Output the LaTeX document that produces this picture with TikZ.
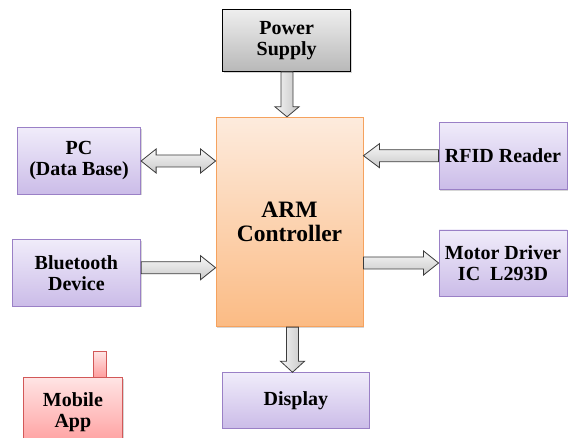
\documentclass[tikz,border=0pt]{standalone}
\usepackage{fontspec}
\setmainfont{Liberation Serif}[UprightFont=*, BoldFont=* Bold]
\usetikzlibrary{calc,shadows}
\definecolor{purT}{HTML}{F0ECFA}
\definecolor{purB}{HTML}{CBBCE8}
\definecolor{purD}{HTML}{9A80C6}
\definecolor{armT}{HTML}{FDEBDD}
\definecolor{armB}{HTML}{FBBB84}
\definecolor{armD}{HTML}{F5A25E}
\definecolor{gryT}{HTML}{EEEEEE}
\definecolor{gryB}{HTML}{B8B8B8}
\definecolor{pnkT}{HTML}{FFE4E4}
\definecolor{pnkB}{HTML}{FF9E9E}
\definecolor{pnkD}{HTML}{D25858}
\definecolor{arrD}{HTML}{3C3C3C}
\tikzset{
  base/.style={align=center, inner sep=0pt, text=black,
    font=\bfseries\fontsize{20}{21}\selectfont,
    drop shadow={shadow xshift=1.2pt, shadow yshift=-1.2pt, opacity=0.35, fill=black!45}},
  box/.style={base, draw=purD, line width=0.9pt, top color=purT, bottom color=purB},
  graybox/.style={base, draw=black, line width=0.9pt, top color=gryT, bottom color=gryB},
  armbox/.style={base, draw=armD, line width=0.9pt, top color=armT, bottom color=armB,
    font=\bfseries\fontsize{23.5}{24.5}\selectfont},
  pinkbox/.style={base, draw=pnkD, line width=0.9pt, top color=pnkT, bottom color=pnkB},
  harr/.style={draw=arrD, line width=0.8pt, top color=gray!6, bottom color=gray!42, line join=miter},
  varr/.style={draw=arrD, line width=0.8pt, left color=gray!8, right color=gray!45, line join=miter},
}
% single block arrow: [head length]{style}{start}{end}
\newcommand\barrow[4][15pt]{%
  \coordinate (bs) at (#3); \coordinate (be) at (#4);
  \coordinate (bh) at ($(be)!#1!(bs)$);
  \draw[#2] ($(bs)!6pt!90:(be)$) -- ($(bh)!6pt!-90:(bs)$) -- ($(bh)!12pt!-90:(bs)$) -- (be)
    -- ($(bh)!12pt!90:(bs)$) -- ($(bh)!6pt!90:(bs)$) -- ($(bs)!6pt!-90:(be)$) -- cycle;}
% double block arrow
\newcommand\dbarrow[4][15pt]{%
  \coordinate (bs) at (#3); \coordinate (be) at (#4);
  \coordinate (bh) at ($(be)!#1!(bs)$); \coordinate (bg) at ($(bs)!#1!(be)$);
  \draw[#2] (bs) -- ($(bg)!12pt!90:(be)$) -- ($(bg)!6pt!90:(be)$) -- ($(bh)!6pt!-90:(bs)$)
    -- ($(bh)!12pt!-90:(bs)$) -- (be) -- ($(bh)!12pt!90:(bs)$) -- ($(bh)!6pt!90:(bs)$)
    -- ($(bg)!6pt!-90:(be)$) -- ($(bg)!12pt!-90:(be)$) -- cycle;}
\begin{document}
\begin{tikzpicture}[x=1pt,y=-1pt]
\clip (0,0) rectangle (568,438);
\fill[white] (0,0) rectangle (568,438);
% nodes
\node[graybox, minimum width=128pt, minimum height=61.5pt] (ps) at (286.7,40.7) {Power\\Supply};
\node[armbox, minimum width=147pt, minimum height=209.4pt] (arm) at (289.5,222) {ARM\\Controller};
\node[box, minimum width=123.3pt, minimum height=66.6pt] (pc) at (79,161) {PC\\(Data Base)};
\node[box, minimum width=128.7pt, minimum height=66.7pt] (bt) at (76.4,272.7) {Bluetooth\\Device};
\node[box, minimum width=128pt, minimum height=67.3pt] (rfid) at (503,155.7) {RFID Reader};
\node[box, minimum width=128pt, minimum height=66pt] (motor) at (503,263) {Motor Driver\\IC\ \ L293D};
\node[box, minimum width=146.3pt, minimum height=55.6pt] (disp) at (295.9,400.5) {Display};
\node[pinkbox, minimum width=12.4pt, minimum height=25.4pt, anchor=south] (tab) at (99.8,377.7) {};
\node[pinkbox, minimum width=99.4pt, minimum height=68.3pt] (mob) at (72.9,411.8) {Mobile\\App};
% connectors
\coordinate (pss) at ($(ps.south)+(0.3,0)$);
\barrow[10pt]{varr}{pss}{pss |- arm.north}
\coordinate (ars) at ($(arm.south)+(3,0)$);
\barrow[11pt]{varr}{ars}{ars |- disp.north}
\dbarrow[15pt]{harr}{pc.east}{arm.west |- pc.east}
\coordinate (bts) at ($(bt.east)+(0,-5)$);
\barrow[15pt]{harr}{bts}{arm.west |- bts}
\barrow[16pt]{harr}{rfid.west}{arm.east |- rfid.west}
\barrow[15pt]{harr}{arm.east |- motor.west}{motor.west}
\end{tikzpicture}
\end{document}
